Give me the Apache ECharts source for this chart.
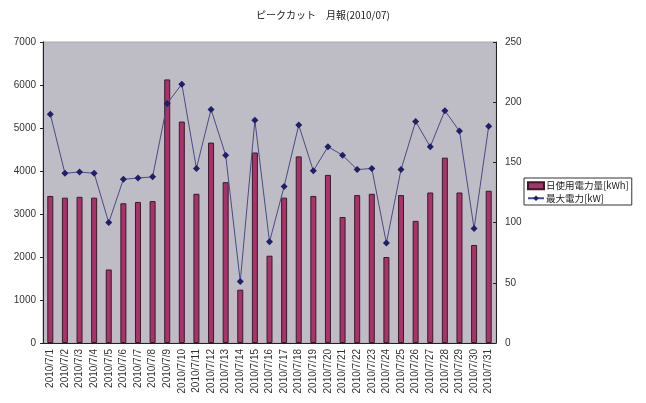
<!DOCTYPE html>
<html>
<head>
<meta charset="utf-8">
<script src="https://cdn.jsdelivr.net/npm/echarts@6/dist/echarts.min.js"></script>
<style>
  html, body { margin: 0; padding: 0; background: #fff; }
  #chart { width: 646px; height: 403px; }
</style>
</head>
<body>
<div id="chart"></div>
<script>
// Daily figures for July 2010
const days = [
  '2010/7/1','2010/7/2','2010/7/3','2010/7/4','2010/7/5','2010/7/6','2010/7/7','2010/7/8',
  '2010/7/9','2010/7/10','2010/7/11','2010/7/12','2010/7/13','2010/7/14','2010/7/15','2010/7/16',
  '2010/7/17','2010/7/18','2010/7/19','2010/7/20','2010/7/21','2010/7/22','2010/7/23','2010/7/24',
  '2010/7/25','2010/7/26','2010/7/27','2010/7/28','2010/7/29','2010/7/30','2010/7/31'
];
// Daily energy use [kWh]
const dailyUse = [
  3420, 3380, 3400, 3380, 1710, 3250, 3280, 3300,
  6130, 5150, 3470, 4660, 3740, 1240, 4430, 2030,
  3380, 4340, 3420, 3910, 2930, 3440, 3470, 2000,
  3440, 2840, 3500, 4310, 3500, 2280, 3540
];
// Peak demand [kW]
const peakDemand = [
  190, 141, 142, 141, 100, 136, 137, 138,
  199, 215, 145, 194, 156, 51, 185, 84,
  130, 181, 143, 163, 156, 144, 145, 83,
  144, 184, 163, 193, 176, 95, 180
];
const leftTicks = [0, 7000, 1000];
const rightTicks = [0, 250, 50];

const labelFont = { color: '#333', fontSize: 10, fontFamily: 'Liberation Sans, Arial, sans-serif' };
const jpFont = '"Noto Sans CJK JP", sans-serif';
const plain = v => String(v);

const chart = echarts.init(document.getElementById('chart'), null, { renderer: 'canvas' });
chart.setOption({
  animation: false,
  backgroundColor: '#fff',
  title: {
    text: 'ピークカット　月報(2010/07)',
    left: 'center',
    top: 5,
    textStyle: { fontSize: 10, fontWeight: 'normal', color: '#222', fontFamily: jpFont }
  },
  legend: {
    orient: 'vertical',
    left: 524,
    top: 178,
    padding: [3, 3, 2, 3],
    itemGap: 3,
    itemWidth: 16,
    itemHeight: 7,
    borderColor: '#333',
    borderWidth: 1,
    textStyle: { fontSize: 9.5, color: '#222', fontFamily: jpFont, padding: [0, 0, 0, -3] },
    data: [
      { name: '日使用電力量[kWh]', icon: 'rect' },
      { name: '最大電力[kW]' }
    ]
  },
  grid: { left: 43, right: 150, top: 42, bottom: 60, show: true, backgroundColor: '#bebcc4', borderColor: '#aaa', borderWidth: 1 },
  xAxis: {
    type: 'category',
    data: days,
    boundaryGap: true,
    axisLine: { lineStyle: { color: '#222' } },
    axisTick: { inside: true, length: 3, lineStyle: { color: '#222' } },
    axisLabel: Object.assign({ rotate: 90, interval: 0, margin: 6 }, labelFont)
  },
  yAxis: [
    {
      type: 'value',
      min: leftTicks[0], max: leftTicks[1], interval: leftTicks[2],
      splitLine: { show: false },
      axisLine: { show: true, lineStyle: { color: '#222' } },
      axisTick: { show: true, length: 3, lineStyle: { color: '#222' } },
      axisLabel: Object.assign({ margin: 7, formatter: plain }, labelFont)
    },
    {
      type: 'value',
      min: rightTicks[0], max: rightTicks[1], interval: rightTicks[2],
      splitLine: { show: false },
      axisLine: { show: true, lineStyle: { color: '#222' } },
      axisTick: { show: true, inside: true, length: 3, lineStyle: { color: '#222' } },
      axisLabel: Object.assign({ margin: 9, formatter: plain }, labelFont)
    }
  ],
  series: [
    {
      name: '日使用電力量[kWh]',
      type: 'bar',
      yAxisIndex: 0,
      data: dailyUse,
      barWidth: 6,
      itemStyle: { color: '#a8336a', borderColor: '#3a1a2a', borderWidth: 1 }
    },
    {
      name: '最大電力[kW]',
      type: 'line',
      yAxisIndex: 1,
      data: peakDemand,
      symbol: 'diamond',
      symbolSize: 7,
      lineStyle: { color: '#4a4a88', width: 1 },
      itemStyle: { color: '#1e1e6a' }
    }
  ]
});
</script>
</body>
</html>
